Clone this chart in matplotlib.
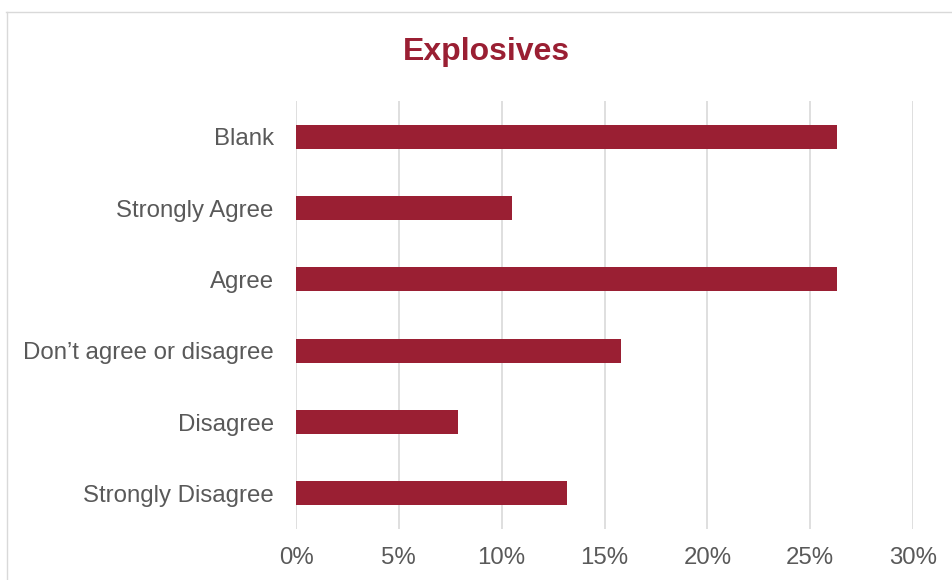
import matplotlib
matplotlib.use("Agg")
import matplotlib.pyplot as plt
from matplotlib.lines import Line2D
from matplotlib.ticker import PercentFormatter

# survey responses (share of 38 answers), top to bottom as drawn
categories = ["Blank", "Strongly Agree", "Agree", "Don\u2019t agree or disagree",
              "Disagree", "Strongly Disagree"]
shares = [10 / 38, 4 / 38, 10 / 38, 6 / 38, 3 / 38, 5 / 38]
x_ticks = [0, 0.05, 0.10, 0.15, 0.20, 0.25, 0.30]

bar_color = "#9A1F33"
text_color = "#595959"
grid_color = "#D9D9D9"

plt.rcParams["font.family"] = ["Liberation Sans", "DejaVu Sans"]

fig = plt.figure(figsize=(9.52, 5.8), dpi=100)
ax = fig.add_axes([296 / 952, 1 - 529 / 580, 617 / 952, 428 / 580])

ypos = list(range(len(categories)))[::-1]
ax.barh(ypos, shares, height=0.34, color=bar_color, zorder=3)

ax.set_xlim(0, 0.30)
ax.set_ylim(-0.5, len(categories) - 0.5)
ax.set_xticks(x_ticks)
ax.xaxis.set_major_formatter(PercentFormatter(1.0, decimals=0))
ax.set_yticks(ypos)
ax.set_yticklabels(categories)

ax.grid(axis="x", color=grid_color, linewidth=1.2, zorder=0)
ax.grid(axis="y", visible=False)
for s in ax.spines.values():
    s.set_visible(False)
ax.tick_params(axis="x", length=0, pad=13, labelsize=17.3, labelcolor=text_color)
ax.tick_params(axis="y", length=0, pad=16, labelsize=17.3, labelcolor=text_color)

fig.text(486 / 952, 1 - 52 / 580, "Explosives", ha="center", va="center",
         fontsize=23, fontweight="bold", color=bar_color)

# chart frame (partly cut off in the original)
fig.add_artist(Line2D([6 / 952, 1], [1 - 11.5 / 580] * 2, color=grid_color,
                      linewidth=1.0, transform=fig.transFigure))
fig.add_artist(Line2D([6.5 / 952] * 2, [0, 1 - 11.5 / 580], color=grid_color,
                      linewidth=1.0, transform=fig.transFigure))

fig.savefig("out.png", dpi=100)
